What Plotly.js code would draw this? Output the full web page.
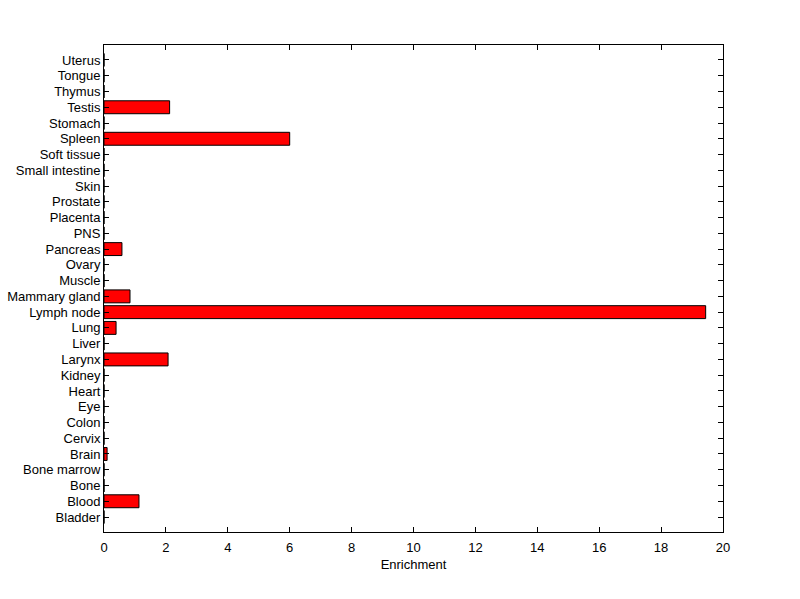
<!DOCTYPE html>
<html>
<head>
<meta charset="utf-8">
<script src="https://cdn.plot.ly/plotly-3.0.1.min.js"></script>
<style>html,body{margin:0;padding:0;background:#fff;}#chart{width:800px;height:599px;}</style>
</head>
<body>
<div id="chart"></div>
<script>
const tissues = ["Bladder","Blood","Bone","Bone marrow","Brain","Cervix","Colon","Eye","Heart","Kidney","Larynx","Liver","Lung","Lymph node","Mammary gland","Muscle","Ovary","Pancreas","PNS","Placenta","Prostate","Skin","Small intestine","Soft tissue","Spleen","Stomach","Testis","Thymus","Tongue","Uterus"];
const enrichment = [0,1.13,0,0,0.1,0,0,0,0,0,2.07,0,0.39,19.44,0.84,0,0,0.58,0,0,0,0,0,0,6.0,0,2.12,0,0,0];
const xTicks = [0,2,4,6,8,10,12,14,16,18,20];

const FONT = 'Liberation Sans, Arial, sans-serif';

const trace = {
  type: 'bar',
  orientation: 'h',
  y: tissues,
  x: enrichment,
  width: 0.82,
  marker: {color: '#ff0000', line: {color: '#000000', width: 1}},
  hoverinfo: 'x+y'
};

const axisCommon = {
  showline: true, mirror: 'ticks', linecolor: '#000', linewidth: 1,
  ticks: 'inside', ticklen: 5, tickcolor: '#000', tickwidth: 1,
  showgrid: false, zeroline: false,
  tickfont: {family: FONT, size: 13, color: '#000'}
};

const layout = {
  width: 800, height: 599,
  margin: {l: 104, r: 77, t: 45, b: 67},
  paper_bgcolor: '#fff', plot_bgcolor: '#fff',
  showlegend: false,
  xaxis: Object.assign({}, axisCommon, {
    range: [0, 20], tickmode: 'array', tickvals: xTicks, ticktext: xTicks.map(String),
    ticklabelstandoff: 3,
    title: {text: 'Enrichment', font: {family: FONT, size: 13, color: '#000'}, standoff: 6}
  }),
  yaxis: Object.assign({}, axisCommon, {
    type: 'category', range: [-0.95, 29.95], ticklabelstandoff: 0,
    tickmode: 'array', tickvals: tissues, ticktext: tissues
  })
};

Plotly.newPlot('chart', [trace], layout, {staticPlot: true});
</script>
</body>
</html>
